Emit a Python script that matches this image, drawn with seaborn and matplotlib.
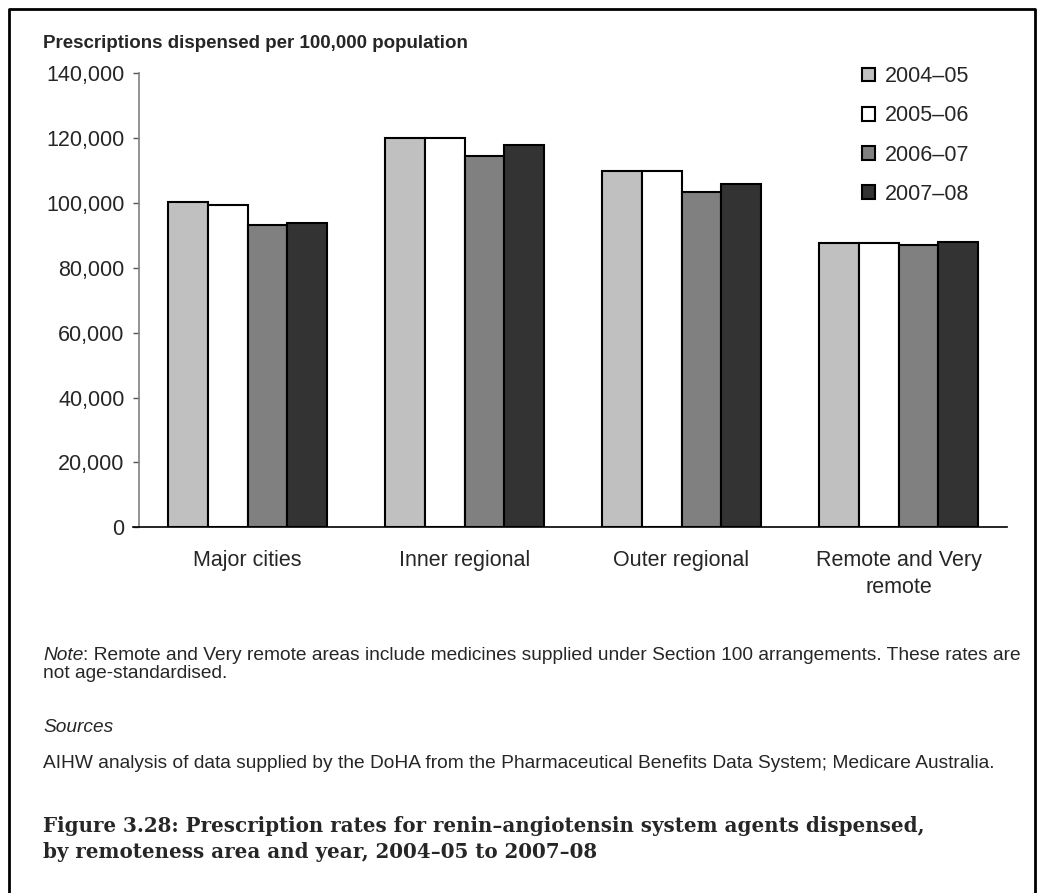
import matplotlib
matplotlib.use("Agg")
import matplotlib.pyplot as plt
from matplotlib.lines import Line2D
import seaborn as sns
import pandas as pd

categories = ["Major cities", "Inner regional", "Outer regional", "Remote and Very\nremote"]
years = ["2004–05", "2005–06", "2006–07", "2007–08"]
v_2004_05 = [100400, 120200, 109800, 87600]
v_2005_06 = [99300, 120200, 109800, 87600]
v_2006_07 = [93200, 114600, 103500, 87000]
v_2007_08 = [93700, 117800, 106000, 88100]
yticks = [0, 20000, 40000, 60000, 80000, 100000, 120000, 140000]
colors = ["#C0C0C0", "#FFFFFF", "#808080", "#333333"]

series = [v_2004_05, v_2005_06, v_2006_07, v_2007_08]
rows = []
for yr, vals in zip(years, series):
    for c, v in zip(categories, vals):
        rows.append({"area": c, "year": yr, "value": v})
df = pd.DataFrame(rows)

sns.set_theme(style="white")
plt.rcParams["font.family"] = ["Liberation Sans", "DejaVu Sans"]

fig = plt.figure(figsize=(10.42, 8.93), dpi=100)
ax = fig.add_axes([139/1042, 1 - 527.3/893, (1007-139)/1042, (527.3-73.3)/893])

sns.barplot(data=df, x="area", y="value", hue="year", order=categories,
            hue_order=years, palette=colors, edgecolor="black", linewidth=1.5,
            width=0.737, gap=0, ax=ax, legend=True, saturation=1)

ax.set_xlim(-0.5, 3.5)
ax.set_ylim(0, 140000)
ax.set_yticks(yticks)
ax.set_yticklabels([f"{t:,}" for t in yticks], fontsize=15.5)
ax.tick_params(axis="y", which="both", left=True, length=4.5, width=1, color="#555555", pad=6)
ax.tick_params(axis="x", bottom=False, labelsize=15.5, pad=10)
for lab in ax.get_xticklabels():
    lab.set_linespacing(1.4)
ax.set_xlabel("")
ax.set_ylabel("")
for s in ["top", "right"]:
    ax.spines[s].set_visible(False)
ax.spines["left"].set_color("#808080")
ax.spines["left"].set_linewidth(1.2)
ax.spines["bottom"].set_color("black")
ax.spines["bottom"].set_linewidth(1.2)
ax.spines["bottom"].set_bounds(-0.5 - 6/217, 3.5)
ax.grid(False)

handles, labels = ax.get_legend_handles_labels()
ax.legend(handles, labels, loc="upper left", bbox_to_anchor=(862/1042, 1 - 66/893),
          bbox_transform=fig.transFigure, frameon=False, fontsize=15.5,
          handlelength=0.6, handleheight=0.6, handletextpad=0.45,
          labelspacing=0.85, borderaxespad=0, borderpad=0)

fig.text(43/1042, 1 - 43/893, "Prescriptions dispensed per 100,000 population",
         fontsize=13.5, fontweight="bold", va="center", ha="left")

note_fs = 13.8
fig.canvas.draw()
r = fig.canvas.get_renderer()
t_note = fig.text(43/1042, 1 - 655/893, "Note", fontsize=note_fs, style="italic", va="center", ha="left")
bb = t_note.get_window_extent(renderer=r)
fig.text(bb.x1 / fig.bbox.width, 1 - 655/893,
         ": Remote and Very remote areas include medicines supplied under Section 100 arrangements. These rates are",
         fontsize=note_fs, va="center", ha="left")
fig.text(43/1042, 1 - 674/893, "not age-standardised.", fontsize=note_fs, va="center", ha="left")
fig.text(43/1042, 1 - 727/893, "Sources", fontsize=note_fs, style="italic", va="center", ha="left")
fig.text(43/1042, 1 - 763/893, "AIHW analysis of data supplied by the DoHA from the Pharmaceutical Benefits Data System; Medicare Australia.",
         fontsize=note_fs, va="center", ha="left")
serif = ["DejaVu Serif", "Liberation Serif"]
fig.text(43/1042, 1 - 826/893, "Figure 3.28: Prescription rates for renin–angiotensin system agents dispensed,",
         fontsize=14.3, fontweight="bold", family=serif, va="center", ha="left")
fig.text(43/1042, 1 - 852/893, "by remoteness area and year, 2004–05 to 2007–08",
         fontsize=14.3, fontweight="bold", family=serif, va="center", ha="left")

# outer frame (left, top, right)
fx0, fx1, fy1 = 9/1042, 1035/1042, 1 - 9/893
fig.add_artist(Line2D([fx0, fx0, fx1, fx1], [0, fy1, fy1, 0], transform=fig.transFigure,
                      color="black", linewidth=2))

fig.savefig("out.png", dpi=100)
